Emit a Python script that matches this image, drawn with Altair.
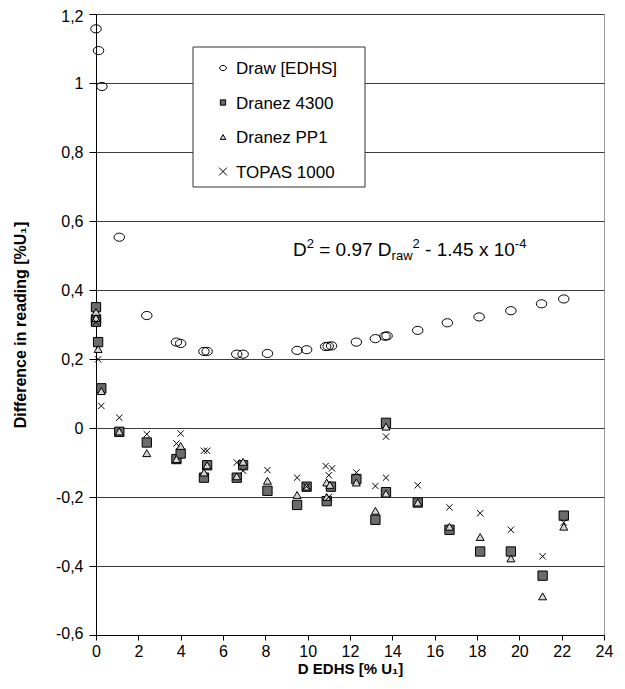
import altair as alt
import pandas as pd

# ---------------- data ----------------
series_names = ["Draw [EDHS]", "Dranez 4300", "Dranez PP1", "TOPAS 1000"]

draw_x = [0.0, 0.12, 0.28, 1.1, 2.4, 3.8, 4.0, 5.1, 5.25, 6.65, 6.95, 8.1, 9.5, 9.95,
          10.85, 10.97, 11.13, 12.3, 13.2, 13.65, 13.75, 15.2, 16.6, 18.1, 19.6, 21.05, 22.1]
draw_y = [1.157, 1.094, 0.99, 0.553, 0.326, 0.249, 0.245, 0.222, 0.222, 0.214, 0.214, 0.216,
          0.225, 0.227, 0.236, 0.237, 0.238, 0.249, 0.259, 0.266, 0.267, 0.283, 0.305, 0.322,
          0.34, 0.36, 0.374]

d4300_x = [0.0, 0.0, 0.0, 0.1, 0.25, 1.1, 2.4, 3.8, 4.0, 5.1, 5.25, 6.65, 6.95, 8.1, 9.5,
           9.95, 10.9, 11.1, 12.3, 13.2, 13.7, 13.7, 15.2, 16.7, 18.15, 19.6, 21.1, 22.1]
d4300_y = [0.35, 0.315, 0.308, 0.249, 0.115, -0.011, -0.042, -0.09, -0.074, -0.144, -0.108,
           -0.144, -0.108, -0.182, -0.223, -0.17, -0.212, -0.17, -0.148, -0.266, 0.015,
           -0.186, -0.216, -0.295, -0.358, -0.358, -0.428, -0.254]

pp1_x = [0.0, 0.0, 0.1, 0.25, 1.1, 2.4, 3.8, 4.0, 5.1, 5.25, 6.65, 6.95, 8.1, 9.5, 9.95,
         10.9, 11.05, 10.9, 12.3, 13.2, 13.7, 13.7, 15.2, 16.7, 18.15, 19.6, 21.1, 22.1]
pp1_y = [0.336, 0.319, 0.229, 0.107, -0.01, -0.073, -0.09, -0.052, -0.129, -0.108, -0.14,
         -0.098, -0.153, -0.194, -0.17, -0.158, -0.165, -0.2, -0.158, -0.24, 0.004, -0.19,
         -0.216, -0.286, -0.316, -0.378, -0.488, -0.286]

topas_x = [0.0, 0.1, 0.25, 1.1, 2.4, 3.8, 4.0, 5.1, 5.25, 6.65, 6.95, 8.1, 9.5, 9.95, 10.85,
           11.0, 11.15, 11.0, 12.3, 13.2, 13.7, 13.7, 15.2, 16.7, 18.15, 19.6, 21.1, 22.1]
topas_y = [0.307, 0.199, 0.064, 0.03, -0.018, -0.045, -0.016, -0.066, -0.066, -0.1, -0.124,
           -0.122, -0.144, -0.17, -0.11, -0.137, -0.117, -0.2, -0.129, -0.168, -0.025, -0.144,
           -0.166, -0.23, -0.247, -0.295, -0.372, -0.274]

x_ticks = list(range(0, 25, 2))
y_ticks = [-0.6, -0.4, -0.2, 0.0, 0.2, 0.4, 0.6, 0.8, 1.0, 1.2]

equation_big = ["D", " = 0.97 D", " - 1.45 x 10"]
equation_small = ["2", "raw", "2", "-4"]

# ---------------- build table ----------------
rows = []
for name, xs, ys in zip(series_names,
                        [draw_x, d4300_x, pp1_x, topas_x],
                        [draw_y, d4300_y, pp1_y, topas_y]):
    for xv, yv in zip(xs, ys):
        rows.append({"series": name, "x": xv, "y": yv})
df = pd.DataFrame(rows)

FONT = "Liberation Sans, Arial, Helvetica, sans-serif"

ellipse = "M-1,0A1,0.78,0,1,1,1,0A1,0.78,0,1,1,-1,0Z"
xcross = "M-1,-1L1,1M-1,1L1,-1"
shapes = [ellipse, "square", "triangle-up", xcross]
fills = ["transparent", "#6b6b6b", "#d6d6d6", "transparent"]
sizes = [110, 40, 50, 130]
legend_sizes = [45, 28, 32, 60]

label_expr = "replace(replace(format(datum.value, '.1~f'), '.', ','), '\u2212', '-')"

points = alt.Chart(df).mark_point(
    filled=True, opacity=1, stroke="black", strokeWidth=1
).encode(
    x=alt.X("x:Q",
            scale=alt.Scale(domain=[0, 24], nice=False, zero=False),
            axis=alt.Axis(values=x_ticks, title="D EDHS [% U\u2081]", grid=False,
                          tickSize=5, labelPadding=3, titlePadding=2,
                          titleFontSize=15, labelFlush=False)),
    y=alt.Y("y:Q",
            scale=alt.Scale(domain=[-0.6, 1.2], nice=False, zero=False),
            axis=alt.Axis(values=y_ticks, labelExpr=label_expr,
                          title="Difference in reading [%U\u2081]",
                          grid=True, gridColor="#3c3c3c", gridWidth=1,
                          tickSize=7, labelPadding=6, titlePadding=27,
                          titleFontSize=16, labelFlush=True, labelFlushOffset=6)),
    shape=alt.Shape("series:N", scale=alt.Scale(domain=series_names, range=shapes), legend=None),
    fill=alt.Fill("series:N", scale=alt.Scale(domain=series_names, range=fills), legend=None),
    size=alt.Size("series:N", scale=alt.Scale(domain=series_names, range=sizes), legend=None),
)

layers = [points]

# ---------------- legend box (drawn as layers) ----------------
LX, LY, LW, LH = 97, 33, 172, 140
layers.append(
    alt.Chart(pd.DataFrame({"k": [0]})).mark_rect(
        fill="white", stroke="#333333", strokeWidth=1
    ).encode(x=alt.value(LX), x2=alt.value(LX + LW), y=alt.value(LY), y2=alt.value(LY + LH))
)
for i, name in enumerate(series_names):
    ry = LY + 21 + 34.5 * i
    layers.append(
        alt.Chart(pd.DataFrame({"k": [name]})).mark_point(
            filled=True, opacity=1, stroke="black", strokeWidth=1, fill=fills[i]
        ).encode(x=alt.value(LX + 30), y=alt.value(ry),
                 shape=alt.value(shapes[i]), size=alt.value(legend_sizes[i]))
    )
    layers.append(
        alt.Chart(pd.DataFrame({"k": [name]})).mark_text(
            align="left", baseline="middle", font=FONT, fontSize=17, color="black"
        ).encode(x=alt.value(LX + 43), y=alt.value(ry + 1), text="k:N")
    )

# ---------------- equation annotation ----------------
W = {"D": .722, " ": .278, "=": .584, "0": .556, ".": .278, "9": .556, "7": .556,
     "r": .333, "a": .556, "w": .722, "2": .556, "-": .333, "1": .556, "4": .556,
     "5": .556, "x": .5}

def tw(s, size):
    return sum(W[c] for c in s) * size

F, f = 19, 13
x0, base = 197, 242
pieces = [
    (equation_big[0], F, 0),
    (equation_small[0], f, -8),
    (equation_big[1], F, 0),
    (equation_small[1], f, 4),
    (equation_small[2], f, -8),
    (equation_big[2], F, 0),
    (equation_small[3], f, -8),
]
cx = x0
for txt, size, dy in pieces:
    stripped = txt.lstrip(" ")
    lead = tw(txt[: len(txt) - len(stripped)], size)
    layers.append(
        alt.Chart(pd.DataFrame({"t": [stripped]})).mark_text(
            align="left", baseline="alphabetic", font=FONT, fontSize=size, color="black"
        ).encode(x=alt.value(cx + lead), y=alt.value(base + dy), text="t:N")
    )
    cx += tw(txt, size)

chart = alt.layer(*layers).properties(
    width=508, height=621,
    autosize=alt.AutoSizeParams(type="none"),
    padding={"left": 88, "top": 6, "right": 13, "bottom": 46},
).configure_view(
    stroke="#9a9a9a", strokeWidth=1
).configure_axis(
    labelFont=FONT, labelFontSize=16, labelColor="black",
    titleFont=FONT, titleFontWeight="bold", titleColor="black",
    domainColor="black", tickColor="black", domainWidth=1, tickWidth=1,
)

chart.save("out.html", embed_options={"renderer": "svg", "actions": False})
